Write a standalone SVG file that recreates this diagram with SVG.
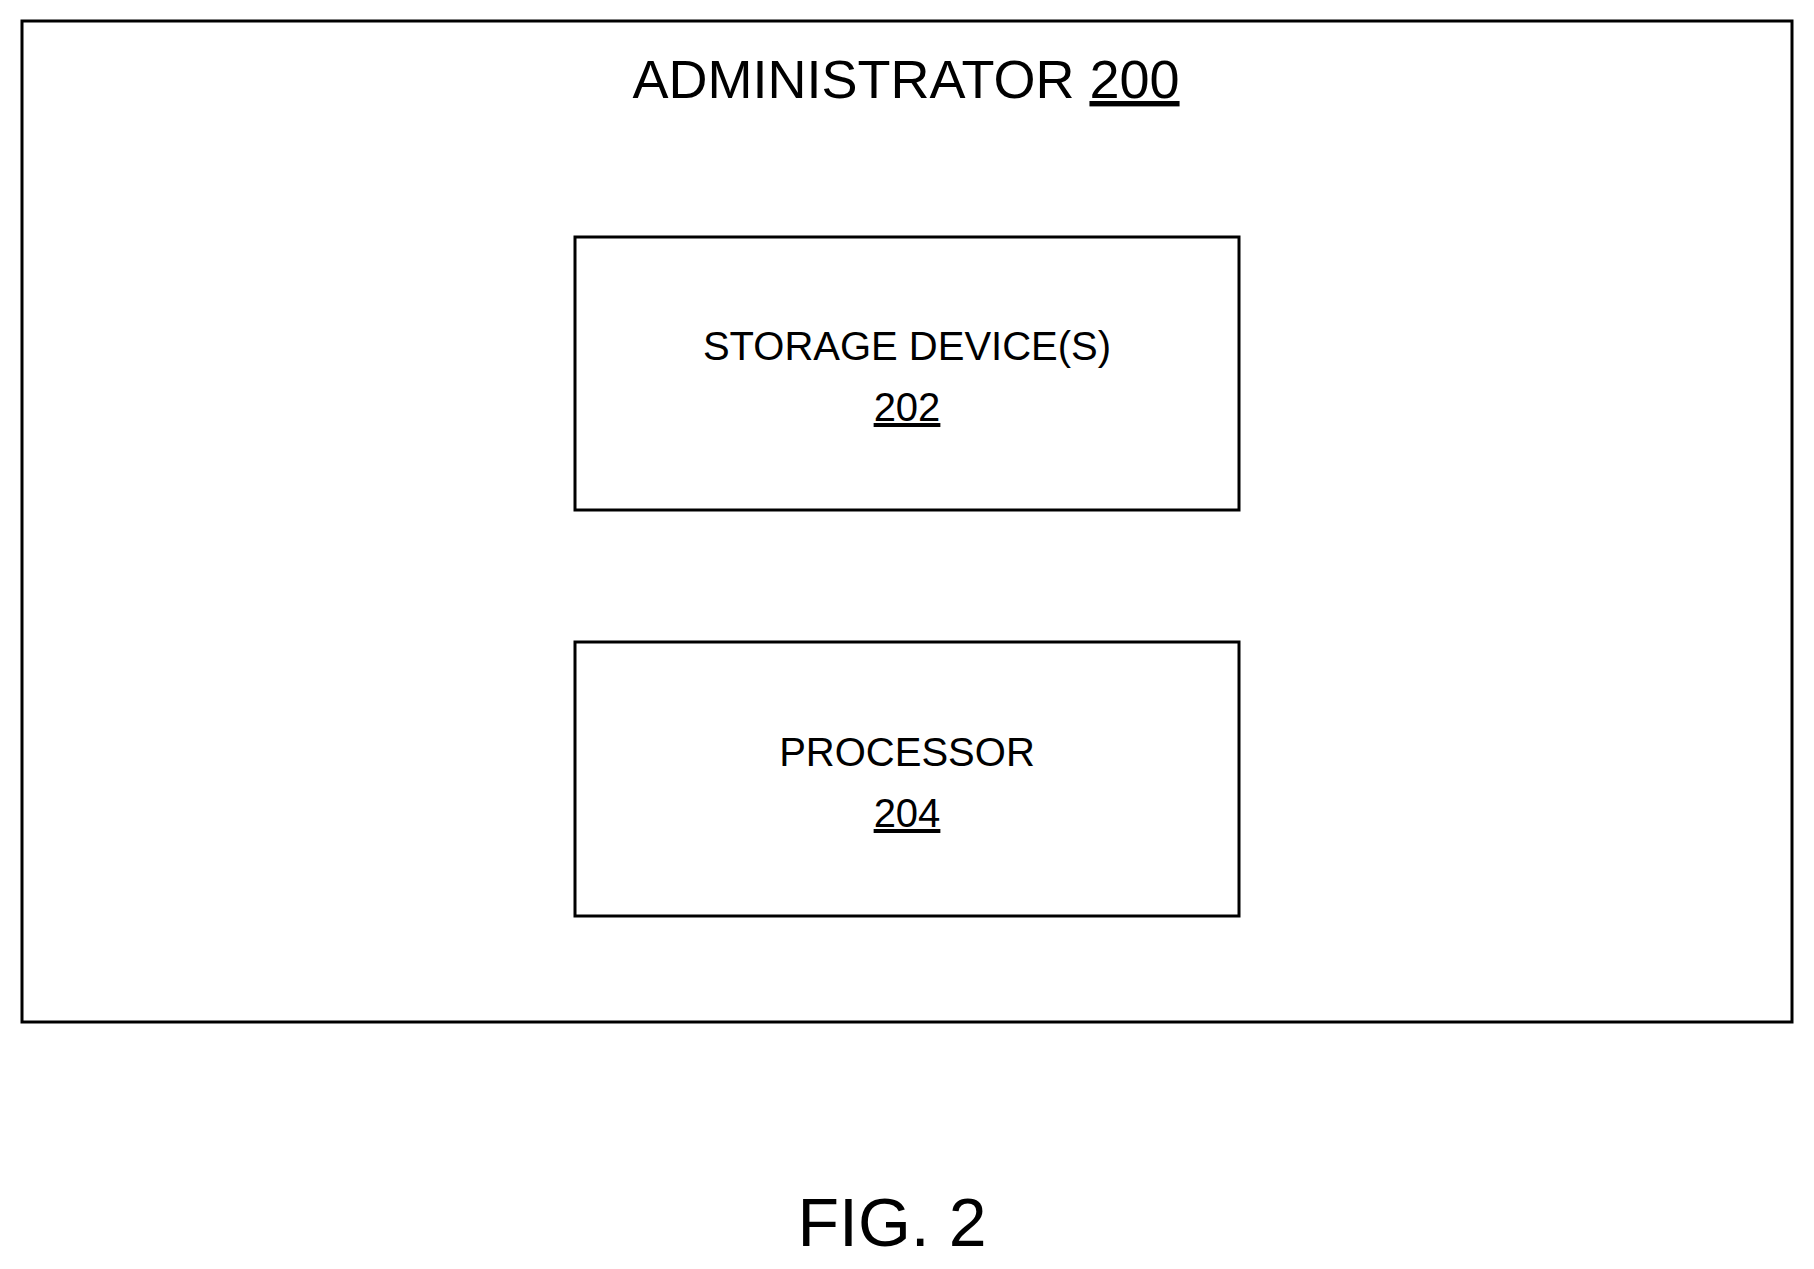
<svg xmlns="http://www.w3.org/2000/svg" width="1814" height="1269" viewBox="0 0 1814 1269">
<style>
.b{fill:none;stroke:#000;stroke-width:3}
text{font-family:"Liberation Sans",Arial,sans-serif;fill:#000;text-anchor:middle}
.t{font-size:40px}
</style>
<rect width="1814" height="1269" fill="#fff"/>
<g id="administrator">
<rect class="b" x="22" y="21" width="1770" height="1001"/>
<text x="906" y="98" style="font-size:54px">ADMINISTRATOR <tspan text-decoration="underline">200</tspan></text>
</g>
<g id="storage">
<rect class="b" x="575" y="237" width="664" height="273"/>
<text class="t" x="907" y="360">STORAGE DEVICE(S)</text>
<text class="t" x="907" y="421" text-decoration="underline">202</text>
</g>
<g id="processor">
<rect class="b" x="575" y="642" width="664" height="274"/>
<text class="t" x="907" y="766">PROCESSOR</text>
<text class="t" x="907" y="827" text-decoration="underline">204</text>
</g>
<g id="connectors"></g>
<text x="892" y="1246" style="font-size:68px">FIG. 2</text>
</svg>
